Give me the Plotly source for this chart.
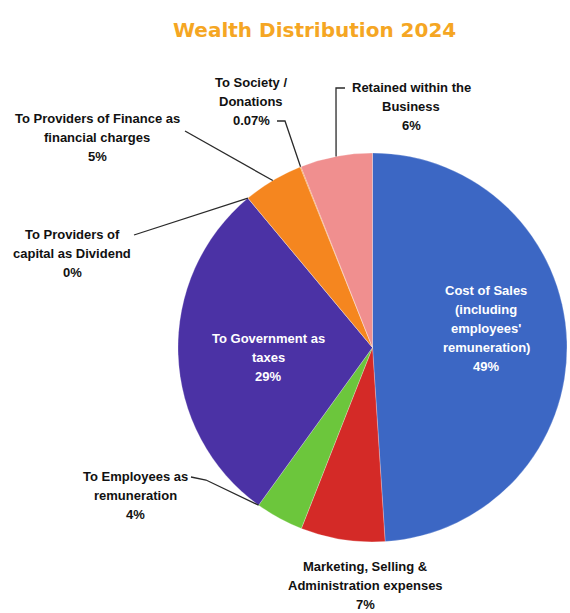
import math
import plotly.graph_objects as go

# ---------------- data ----------------
categories = [
    "Cost of Sales (including employees' remuneration)",
    "Marketing, Selling & Administration expenses",
    "To Employees as remuneration",
    "To Government as taxes",
    "To Providers of capital as Dividend",
    "To Providers of Finance as financial charges",
    "To Society / Donations",
    "Retained within the Business",
]
values = [49, 7, 4, 29, 0, 5, 0.07, 6]
pct_labels = ["49%", "7%", "4%", "29%", "0%", "5%", "0.07%", "6%"]
label_lines = [
    ["Cost of Sales", "(including", "employees'", "remuneration)"],
    ["Marketing, Selling &", "Administration expenses"],
    ["To Employees as", "remuneration"],
    ["To Government as", "taxes"],
    ["To Providers of", "capital as Dividend"],
    ["To Providers of Finance as", "financial charges"],
    ["To Society /", "Donations"],
    ["Retained within the", "Business"],
]
title_text = "Wealth Distribution 2024"

# ---------------- styling / layout ----------------
colors = ["#3C67C4", "#D42A27", "#6CC63C", "#4B32A5", "#4B32A5", "#F5861F", "#F5861F", "#F08F8F"]
W, H = 570, 613
PIE_CX, PIE_CY, PIE_R = 372.5, 347.5, 194.5   # pixels (from top-left)

label_layout = [
    dict(x=486, y=290, color="white", leader=None),
    dict(x=365, y=566, color="#111", leader=None),
    dict(x=135, y=476, color="#111", leader=[(191, 477), (206, 480)], at="end"),
    dict(x=268, y=338, color="white", leader=None),
    dict(x=72, y=234, color="#111", leader=[(134, 235)], at="mid"),
    dict(x=97, y=118, color="#111", leader=[(185, 131)], at="mid"),
    dict(x=251, y=83, color="#111", leader=[(277, 121), (285, 121)], at="mid"),
    dict(x=411, y=88, color="#111", leader=[(345, 88), (336, 88)], at="mid"),
]
LINE_SP = 19


def px(x):
    return x / W


def py(y):
    return 1 - y / H


def edge_point(frac):
    ang = 2 * math.pi * frac
    return PIE_CX + PIE_R * math.sin(ang), PIE_CY - PIE_R * math.cos(ang)


fig = go.Figure(
    go.Pie(
        labels=categories,
        values=values,
        sort=False,
        direction="clockwise",
        rotation=0,
        marker=dict(colors=colors, line=dict(color="rgba(255,255,255,0.4)", width=0.6)),
        textinfo="none",
        hoverinfo="label+percent",
        showlegend=False,
        domain=dict(
            x=[px(PIE_CX - PIE_R), px(PIE_CX + PIE_R)],
            y=[py(PIE_CY + PIE_R), py(PIE_CY - PIE_R)],
        ),
    )
)

total = sum(values)
cum = 0.0
annotations = []
shapes = []
for i, v in enumerate(values):
    start = cum / total
    cum += v
    end = cum / total
    lay = label_layout[i]
    lines = label_lines[i] + [pct_labels[i]]
    for k, ln in enumerate(lines):
        annotations.append(dict(
            x=px(lay["x"]), y=py(lay["y"] + k * LINE_SP), xref="paper", yref="paper",
            text="<b>" + ln + "</b>", showarrow=False, xanchor="center", yanchor="middle",
            font=dict(family="Liberation Sans, Arial, sans-serif", size=13, color=lay["color"]),
        ))
    if lay["leader"]:
        frac = end if lay.get("at") == "end" else (start + end) / 2
        ex, ey = edge_point(frac)
        pts = lay["leader"] + [(ex, ey)]
        path = "M " + " L ".join(f"{px(a):.5f},{py(b):.5f}" for a, b in pts)
        shapes.append(dict(type="path", path=path, xref="paper", yref="paper",
                           line=dict(color="#2a2a2a", width=1.3)))

annotations.append(dict(
    x=px(314), y=py(30), xref="paper", yref="paper", text="<b>" + title_text + "</b>",
    showarrow=False, xanchor="center", yanchor="middle",
    font=dict(family="DejaVu Sans, sans-serif", size=20, color="#F5A623"),
))

fig.update_layout(
    width=W, height=H,
    margin=dict(l=0, r=0, t=0, b=0),
    paper_bgcolor="white", plot_bgcolor="white",
    annotations=annotations, shapes=shapes,
)

fig.write_html("out.html")
